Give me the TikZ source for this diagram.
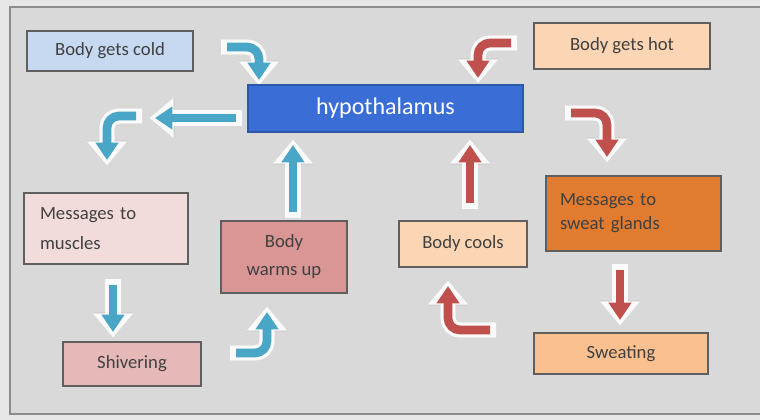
\documentclass[tikz,border=0pt]{standalone}
\usepackage{fontspec}
\setmainfont{Carlito}
\usetikzlibrary{arrows.meta}
\definecolor{bgout}{HTML}{E6E6E6}
\definecolor{bgin}{HTML}{D9D9D9}
\definecolor{frameline}{HTML}{8C8C8C}
\definecolor{boxline}{HTML}{5F5F5F}
\definecolor{txt}{HTML}{404040}
\definecolor{coldc}{HTML}{C6D9F1}
\definecolor{hypoc}{HTML}{3A6ED6}
\definecolor{hotc}{HTML}{FCD5B4}
\definecolor{sweatmc}{HTML}{E07B30}
\definecolor{musclec}{HTML}{F2DCDB}
\definecolor{warmc}{HTML}{D99694}
\definecolor{shiverc}{HTML}{E6B9B8}
\definecolor{sweatc}{HTML}{FAC090}
\definecolor{bluearr}{HTML}{4AA6C6}
\definecolor{redarr}{HTML}{C0504D}
\newcommand\px{0.75pt}
\newcommand\fancyarrow[4]{%
  \draw[arrshadow] #2 #3 #4;
  \draw[arrglow] #2 #3 #4;
  \draw[arrcore,#1] #2 #3 #4;
}
\tikzset{
  box/.style={draw=boxline, line width=1.2pt, rectangle, inner sep=0pt,
    text=txt, font=\fontsize{14}{19}\selectfont},
  arrshadow/.style={gray!75, opacity=0.4, line width=11.5pt, rounded corners=9pt,
    shift={(2,2.5)}, shorten >=-3.5pt, shorten <=-4pt,
    -{Triangle[length=18pt,width=29pt]}},
  arrglow/.style={white!96!gray, line width=11.5pt, rounded corners=9pt,
    shorten >=-4pt, shorten <=-4.5pt,
    -{Triangle[length=18pt,width=29pt]}},
  arrcore/.style={line width=6.5pt, rounded corners=9pt,
    -{Triangle[length=13pt,width=16.5pt]}},
}
\begin{document}
\begin{tikzpicture}[x=0.75pt,y=-0.75pt]
\useasboundingbox (0,0) rectangle (760,420);
\clip (0,0) rectangle (760,420);
\fill[bgout] (0,0) rectangle (760,420);
\draw[frameline, fill=bgin, line width=1.6pt] (10,7) rectangle (775,414);

% arrow end points
\coordinate (b1s) at (227,47);   \coordinate (b1e) at (259,80);
\coordinate (b2s) at (236,118);  \coordinate (b2e) at (155,118);
\coordinate (b3s) at (136,116);  \coordinate (b3e) at (107,160);
\coordinate (b4s) at (293,212);  \coordinate (b4e) at (293,145);
\coordinate (b5s) at (113,285);  \coordinate (b5e) at (113,332);
\coordinate (b6s) at (236,353);  \coordinate (b6e) at (267,312);
\coordinate (r1s) at (511,43);   \coordinate (r1e) at (478,78);
\coordinate (r2s) at (571,113);  \coordinate (r2e) at (607,157);
\coordinate (r3s) at (470,203);  \coordinate (r3e) at (470,145);
\coordinate (r4s) at (620,270);  \coordinate (r4e) at (620,320);
\coordinate (r5s) at (490,330);  \coordinate (r5e) at (448,286);

\fancyarrow{bluearr}{(b1s)}{-|}{(b1e)}
\fancyarrow{bluearr}{(b2s)}{--}{(b2e)}
\fancyarrow{bluearr}{(b3s)}{-|}{(b3e)}
\fancyarrow{bluearr}{(b4s)}{--}{(b4e)}
\fancyarrow{bluearr}{(b5s)}{--}{(b5e)}
\fancyarrow{bluearr}{(b6s)}{-|}{(b6e)}
\fancyarrow{redarr}{(r1s)}{-|}{(r1e)}
\fancyarrow{redarr}{(r2s)}{-|}{(r2e)}
\fancyarrow{redarr}{(r3s)}{--}{(r3e)}
\fancyarrow{redarr}{(r4s)}{--}{(r4e)}
\fancyarrow{redarr}{(r5s)}{-|}{(r5e)}

% boxes
\node[box, fill=coldc, minimum width=166*\px, minimum height=40*\px] (cold) at (110,51) {Body gets cold};
\node[box, fill=hypoc, draw=hypoc!80!black, text=white, font=\fontsize{18}{22}\selectfont,
      minimum width=275*\px, minimum height=47*\px] (hypo) at (385.5,108.5) {hypothalamus};
\node[box, fill=hotc, minimum width=176*\px, minimum height=46*\px] (hot) at (622,46) {Body gets hot};
\node[box, fill=sweatmc, minimum width=175*\px, minimum height=75*\px,
      text width=147*\px, align=left] (sweatmsg) at (633.5,213.5) {Messages to\\[-1pt]sweat glands\\[6pt]};
\node[box, fill=musclec, minimum width=164*\px, minimum height=71*\px,
      text width=132*\px, align=left] (muscles) at (106,228.5) {Messages to\\[3pt]muscles\\[4pt]};
\node[box, fill=warmc, minimum width=126*\px, minimum height=72*\px, align=center] (warms) at (284,257) {Body\\[2pt]warms up};
\node[box, fill=hotc, minimum width=128*\px, minimum height=46*\px] (cools) at (463,244) {Body cools};
\node[box, fill=shiverc, minimum width=138*\px, minimum height=44*\px] (shiver) at (132,364) {Shivering};
\node[box, fill=sweatc, minimum width=174*\px, minimum height=41*\px] (sweating) at (621,353.5) {Sweating};
\end{tikzpicture}
\end{document}
